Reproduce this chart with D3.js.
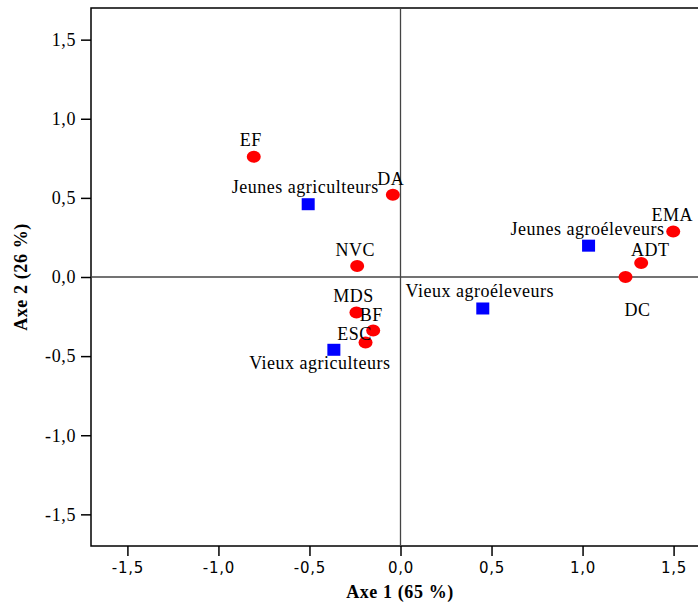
<!DOCTYPE html>
<html>
<head>
<meta charset="utf-8">
<title>AFC</title>
<script src="https://cdn.jsdelivr.net/npm/d3@7"></script>
<style>
  body { margin: 0; background: #fff; }
  text { font-family: "Liberation Serif", "Times New Roman", serif; }
</style>
</head>
<body>
<script>
// variables (red points)
var varNames = ["EF", "DA", "NVC", "MDS", "BF", "ESC", "EMA", "ADT", "DC"];
var varX = [-0.806, -0.042, -0.238, -0.242, -0.150, -0.192, 1.498, 1.322, 1.236];
var varY = [0.76, 0.52, 0.07, -0.224, -0.338, -0.414, 0.287, 0.089, 0.0];

// groupes (blue squares)
var grpNames = ["Jeunes agriculteurs", "Vieux agriculteurs", "Vieux agroéleveurs", "Jeunes agroéleveurs"];
var grpX = [-0.507, -0.366, 0.452, 1.033];
var grpY = [0.46, -0.46, -0.199, 0.198];

var ticks = [-1.5, -1.0, -0.5, 0.0, 0.5, 1.0, 1.5];

// label placement (px offset of label centre/baseline from the point)
var varLab = [[-3, -11], [-2, -10], [-2, -10], [-3, -10], [-2, -9], [-11, -3], [-1, -11], [9, -7], [12, 39]];
var grpLab = [[-3, -11], [-14, 19], [-3, -11], [-1, -11]];

var W = 698, H = 605;
var mLeft = 91, mTop = 8, mBottom = 546, mRight = 710;

var svg = d3.select("body").append("svg")
    .attr("width", W)
    .attr("height", H);

var x = d3.scaleLinear().domain([-1.7, 1.7]).range([mLeft, mRight]);
var y = d3.scaleLinear().domain([-1.7, 1.7]).range([mBottom, mTop]);

var fmt = function (d) { return d3.format(".1f")(d).replace(".", ",").replace("\u2212", "-"); };

// frame
svg.append("rect")
    .attr("x", mLeft).attr("y", mTop)
    .attr("width", mRight - mLeft).attr("height", mBottom - mTop)
    .attr("fill", "none").attr("stroke", "#000").attr("stroke-width", 1.5);

// zero lines
svg.append("line")
    .attr("x1", mLeft).attr("x2", mRight)
    .attr("y1", y(0)).attr("y2", y(0))
    .attr("stroke", "#444").attr("stroke-width", 1.3);
svg.append("line")
    .attr("x1", x(0)).attr("x2", x(0))
    .attr("y1", mTop).attr("y2", mBottom)
    .attr("stroke", "#444").attr("stroke-width", 1.3);

// axes
var xAxis = svg.append("g")
    .attr("transform", "translate(0," + mBottom + ")")
    .call(d3.axisBottom(x).tickValues(ticks).tickFormat(fmt).tickSize(10).tickSizeOuter(0).tickPadding(6));
xAxis.select(".domain").remove();
xAxis.selectAll("line").attr("stroke", "#000").attr("stroke-width", 1.5);
xAxis.selectAll("text")
    .style("font-family", "'DejaVu Sans', Verdana, sans-serif")
    .style("font-size", "15px")
    .style("letter-spacing", "0.8px")
    .attr("fill", "#000");

var yAxis = svg.append("g")
    .attr("transform", "translate(" + mLeft + ",0)")
    .call(d3.axisLeft(y).tickValues(ticks).tickFormat(fmt).tickSize(10).tickSizeOuter(0).tickPadding(5));
yAxis.select(".domain").remove();
yAxis.selectAll("line").attr("stroke", "#000").attr("stroke-width", 1.5);
yAxis.selectAll("text")
    .style("font-family", "'Liberation Serif', 'Times New Roman', serif")
    .style("font-size", "18px")
    .style("letter-spacing", "0.6px")
    .attr("fill", "#000");

// axis titles
svg.append("text")
    .attr("x", 400).attr("y", 598)
    .attr("text-anchor", "middle")
    .style("font-size", "18px").style("font-weight", "bold").style("letter-spacing", "0.6px")
    .text("Axe 1 (65 %)");
svg.append("text")
    .attr("transform", "translate(27,277) rotate(-90)")
    .attr("text-anchor", "middle")
    .style("font-size", "18px").style("font-weight", "bold").style("letter-spacing", "0.6px")
    .text("Axe 2 (26 %)");

var vars = varNames.map(function (n, i) { return { name: n, x: varX[i], y: varY[i], off: varLab[i] }; });
var grps = grpNames.map(function (n, i) { return { name: n, x: grpX[i], y: grpY[i], off: grpLab[i] }; });

// blue squares
svg.selectAll(".grp").data(grps).enter().append("rect")
    .attr("class", "grp")
    .attr("x", function (d) { return x(d.x) - 6.5; })
    .attr("y", function (d) { return y(d.y) - 6; })
    .attr("width", 13).attr("height", 12)
    .attr("fill", "#0000ff");

// red points
svg.selectAll(".var").data(vars).enter().append("ellipse")
    .attr("class", "var")
    .attr("cx", function (d) { return x(d.x); })
    .attr("cy", function (d) { return y(d.y); })
    .attr("rx", 7).attr("ry", 6)
    .attr("fill", "#ff0000");

svg.selectAll(".lab").data(vars.concat(grps)).enter().append("text")
    .attr("class", "lab")
    .attr("x", function (d) { return x(d.x) + d.off[0]; })
    .attr("y", function (d) { return y(d.y) + d.off[1]; })
    .attr("text-anchor", "middle")
    .style("font-size", "18px")
    .style("letter-spacing", "0.5px")
    .text(function (d) { return d.name; });
</script>
</body>
</html>
